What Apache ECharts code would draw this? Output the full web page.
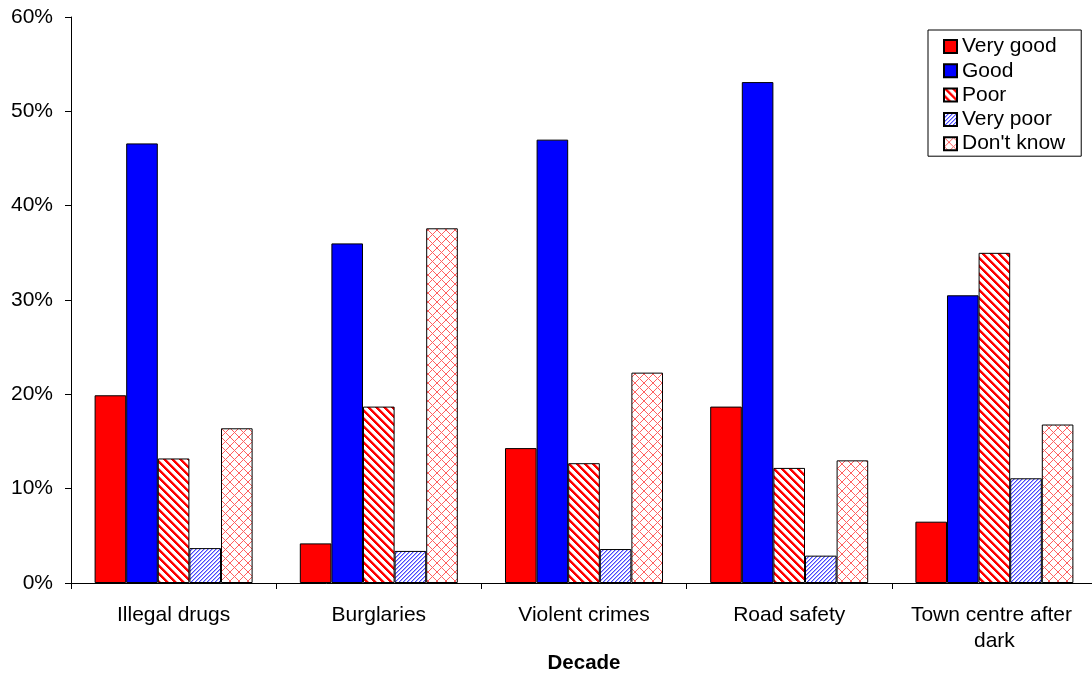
<!DOCTYPE html>
<html>
<head>
<meta charset="utf-8">
<script src="https://cdn.jsdelivr.net/npm/echarts@6/dist/echarts.min.js"></script>
<style>
  html, body { margin: 0; padding: 0; background: #fff; }
  #chart { width: 1092px; height: 675px; }
</style>
</head>
<body>
<div id="chart"></div>
<script>
// Survey ratings by topic (percent of respondents)
const categories = ['Illegal drugs', 'Burglaries', 'Violent crimes', 'Road safety', 'Town centre after dark'];
const veryGood = [19.9, 4.2, 14.3, 18.7, 6.5];
const good     = [46.6, 36.0, 47.0, 53.1, 30.5];
const poor     = [13.2, 18.7, 12.7, 12.2, 35.0];
const veryPoor = [3.7, 3.4, 3.6, 2.9, 11.1];
const dontKnow = [16.4, 37.6, 22.3, 13.0, 16.8];
const yTicks   = [0, 10, 20, 30, 40, 50, 60];

const FONT = '"Liberation Sans", Arial, sans-serif';

// Hatch fills built pixel by pixel on small repeating tiles.
// pick(x, y) returns an [r, g, b] colour or null for white.
function tile(size, pick) {
  const c = document.createElement('canvas');
  c.width = size; c.height = size;
  const ctx = c.getContext('2d');
  const img = ctx.createImageData(size, size);
  for (let y = 0; y < size; y++) {
    for (let x = 0; x < size; x++) {
      const col = pick(x, y) || [255, 255, 255];
      const i = (y * size + x) * 4;
      img.data[i] = col[0]; img.data[i + 1] = col[1]; img.data[i + 2] = col[2]; img.data[i + 3] = 255;
    }
  }
  ctx.putImageData(img, 0, 0);
  return { image: c, repeat: 'repeat' };
}
const mod = (a, n) => ((a % n) + n) % n;

// "\" red stripes
const poorFill = tile(8, (x, y) => {
  const d = mod(x - y, 8);
  if (d <= 2) return [255, 0, 0];
  if (d === 3) return [255, 150, 150];
  return null;
});
// fine "/" blue stripes
const veryPoorFill = tile(4, (x, y) => {
  const d = mod(x + y, 4);
  if (d === 0) return [70, 70, 255];
  if (d === 1) return [170, 170, 255];
  return null;
});
// light red diagonal crosshatch
const dontKnowFill = tile(9, (x, y) => {
  if (mod(x + y, 9) === 0 || mod(x - y, 9) === 0) return [255, 96, 96];
  return null;
});

function bar(name, data, fill) {
  return {
    name: name,
    type: 'bar',
    data: data,
    barGap: '0%',
    barCategoryGap: '23%',
    itemStyle: { color: fill, borderColor: '#000', borderWidth: 1 },
    emphasis: { disabled: true }
  };
}

const chart = echarts.init(document.getElementById('chart'), null, { renderer: 'canvas' });
chart.setOption({
  animation: false,
  backgroundColor: '#fff',
  grid: { left: 71, top: 17, right: -5, bottom: 92, containLabel: false, outerBoundsMode: 'none' },
  legend: {
    orient: 'vertical',
    left: 928,
    top: 30,
    padding: [6, 16, 2, 15],
    borderColor: '#000',
    borderWidth: 1,
    backgroundColor: '#fff',
    icon: 'rect',
    itemWidth: 13,
    itemHeight: 13,
    itemGap: 3.3,
    textStyle: { fontFamily: FONT, fontSize: 21, color: '#000', lineHeight: 21 },
    data: ['Very good', 'Good', 'Poor', 'Very poor', "Don't know"]
  },
  xAxis: {
    type: 'category',
    data: categories,
    name: 'Decade',
    nameLocation: 'middle',
    nameGap: 69.5,
    nameMoveOverlap: false,
    nameTextStyle: { fontFamily: FONT, fontSize: 20.5, fontWeight: 'bold', color: '#000' },
    axisLine: { lineStyle: { color: '#000', width: 1 } },
    axisTick: { show: true, length: 6, lineStyle: { color: '#000' } },
    axisLabel: {
      fontFamily: FONT, fontSize: 21, color: '#000', margin: 19, lineHeight: 26,
      width: 190, overflow: 'break', interval: 0
    }
  },
  yAxis: {
    type: 'value',
    min: yTicks[0],
    max: yTicks[yTicks.length - 1],
    interval: 10,
    splitLine: { show: false },
    axisLine: { show: true, lineStyle: { color: '#000', width: 1 } },
    axisTick: { show: true, length: 6, lineStyle: { color: '#000' } },
    axisLabel: { fontFamily: FONT, fontSize: 21, color: '#000', margin: 18, formatter: '{value}%' }
  },
  series: [
    bar('Very good', veryGood, '#ff0000'),
    bar('Good', good, '#0000ff'),
    bar('Poor', poor, poorFill),
    bar('Very poor', veryPoor, veryPoorFill),
    bar("Don't know", dontKnow, dontKnowFill)
  ]
});
</script>
</body>
</html>
